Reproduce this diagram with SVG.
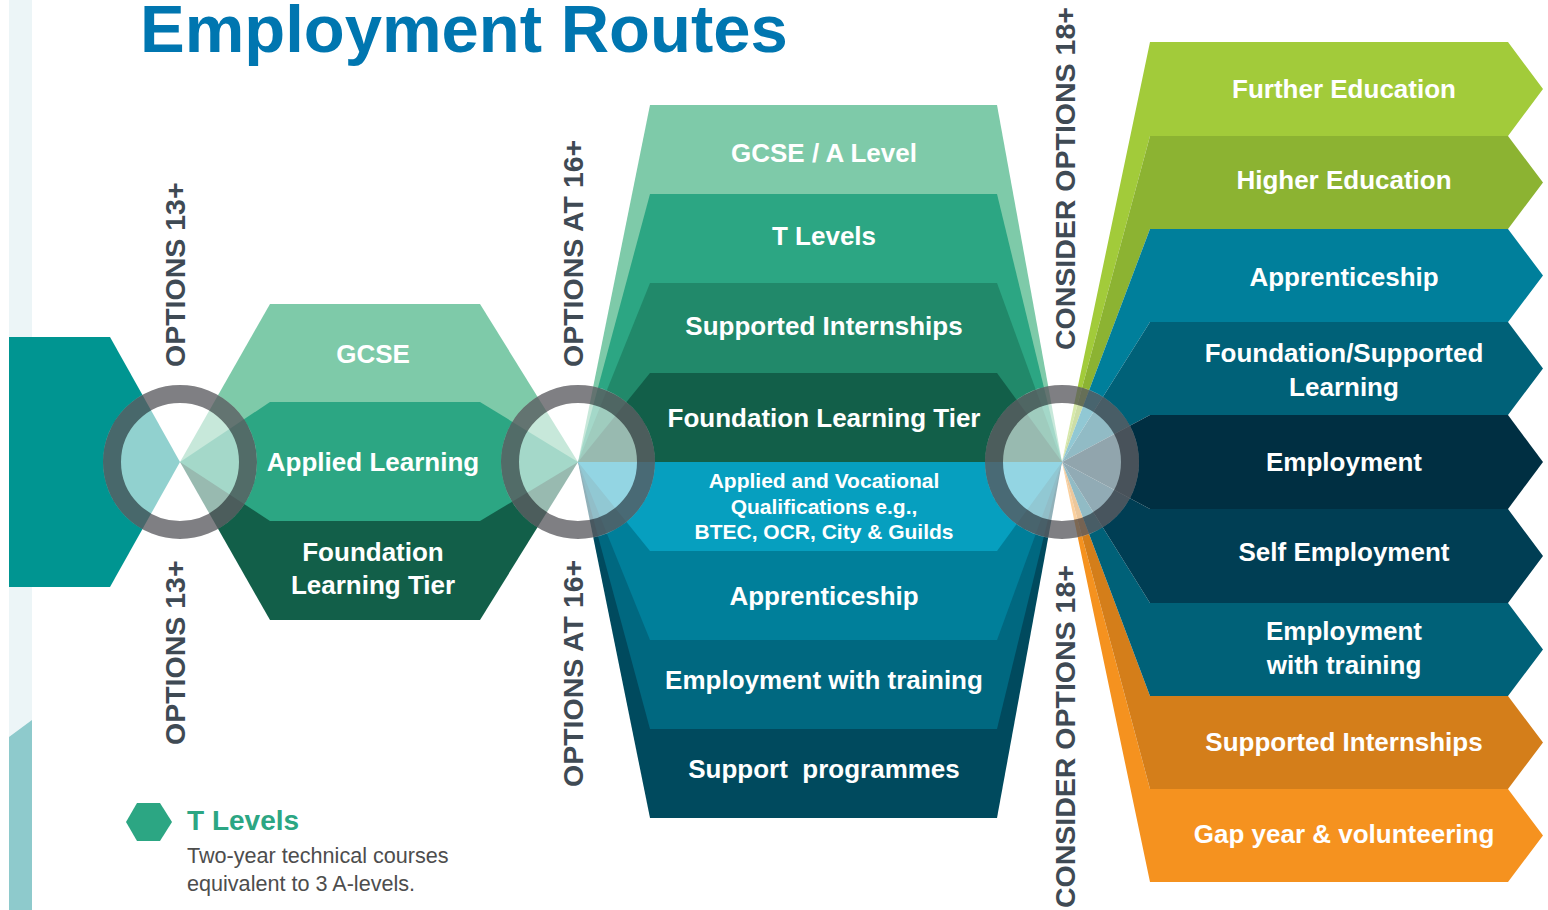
<svg xmlns="http://www.w3.org/2000/svg" width="1548" height="910" viewBox="0 0 1548 910">
<style>
.lbl{font-family:"Liberation Sans",Arial,sans-serif;font-weight:bold;font-size:26px;fill:#fff;text-anchor:middle}
.sm{font-size:21px}
.vl{font-family:"Liberation Sans",Arial,sans-serif;font-weight:bold;font-size:28.5px;fill:#3f4a54}
.disc{fill:#fff;opacity:.57}
.ring{fill:none;stroke:#000008;stroke-width:18;stroke-opacity:.5}
</style>
<rect width="1548" height="910" fill="#fff"/>
<g id="side-strip">
<rect x="9" y="0" width="23" height="740" fill="#ecf5f7"/>
<polygon points="9,737 32,720 32,910 9,910" fill="#8ecacc"/>
</g>
<text x="140" y="52" font-family="'Liberation Sans',Arial,sans-serif" font-weight="bold" font-size="67" fill="#0076b0">Employment Routes</text>

<g id="start">
<polygon points="9,337 110,337 180,462 110,587 9,587" fill="#009591"/>
</g>

<g id="stage1">
<g id="s1-gcse"><polygon points="180,462 270,304 480,304 578,462" fill="#7ecaa9"/></g>
<g id="s1-flt"><polygon points="180,462 270,620 480,620 578,462" fill="#125f49"/></g>
<g id="s1-applied"><polygon points="180,462 270,402 480,402 578,462 480,521 270,521" fill="#2ca683"/></g>
</g>

<g id="stage2">
<g id="s2-gcse-alevel"><polygon points="578,462 650,105 997,105 1062,462" fill="#7ecaa9"/></g>
<g id="s2-tlevels"><polygon points="578,462 650,194 997,194 1062,462" fill="#2ca683"/></g>
<g id="s2-supported"><polygon points="578,462 650,283 997,283 1062,462" fill="#21896a"/></g>
<g id="s2-flt"><polygon points="578,462 650,373 997,373 1062,462" fill="#125f49"/></g>
<g id="s2-support-prog"><polygon points="578,462 650,818 997,818 1062,462" fill="#004a5e"/></g>
<g id="s2-ewt"><polygon points="578,462 650,729 997,729 1062,462" fill="#006880"/></g>
<g id="s2-apprenticeship"><polygon points="578,462 650,640 997,640 1062,462" fill="#007f9a"/></g>
<g id="s2-applied-voc"><polygon points="578,462 650,551 997,551 1062,462" fill="#069fbf"/></g>
</g>

<g id="stage3">
<g id="s3-further"><polygon points="1062,462 1150,42 1508,42 1543,89 1508,136 1150,136" fill="#a2cb3a"/></g>
<g id="s3-higher"><polygon points="1062,462 1150,136 1508,136 1543,182.5 1508,229 1150,229" fill="#8cb332"/></g>
<g id="s3-apprenticeship"><polygon points="1062,462 1150,229 1508,229 1543,275.5 1508,322 1150,322" fill="#007f9b"/></g>
<g id="s3-foundation"><polygon points="1062,462 1150,322 1508,322 1543,368.5 1508,415 1150,415" fill="#006178"/></g>
<g id="s3-gap"><polygon points="1062,462 1150,789 1508,789 1543,835.5 1508,882 1150,882" fill="#f5921f"/></g>
<g id="s3-supported"><polygon points="1062,462 1150,696 1508,696 1543,742.5 1508,789 1150,789" fill="#d47e1a"/></g>
<g id="s3-ewt"><polygon points="1062,462 1150,603 1508,603 1543,649.5 1508,696 1150,696" fill="#006178"/></g>
<g id="s3-self"><polygon points="1062,462 1150,509 1508,509 1543,556 1508,603 1150,603" fill="#003e54"/></g>
<g id="s3-employment"><polygon points="1062,462 1150,415 1508,415 1543,462 1508,509 1150,509" fill="#002f42"/></g>
</g>

<g id="connectors">
<g id="hub1"><circle class="disc" cx="180" cy="462" r="77"/><circle class="ring" cx="180" cy="462" r="68"/></g>
<g id="hub2"><circle class="disc" cx="578" cy="462" r="77"/><circle class="ring" cx="578" cy="462" r="68"/></g>
<g id="hub3"><circle class="disc" cx="1062" cy="462" r="77"/><circle class="ring" cx="1062" cy="462" r="68"/></g>
</g>

<g id="labels">
<text class="lbl" x="373" y="363">GCSE</text>
<text class="lbl" x="373" y="471">Applied Learning</text>
<text class="lbl" x="373" y="561">Foundation</text>
<text class="lbl" x="373" y="594">Learning Tier</text>

<text class="lbl" x="824" y="162">GCSE / A Level</text>
<text class="lbl" x="824" y="245">T Levels</text>
<text class="lbl" x="824" y="335">Supported Internships</text>
<text class="lbl" x="824" y="427">Foundation Learning Tier</text>
<text class="lbl sm" x="824" y="487.5">Applied and Vocational</text>
<text class="lbl sm" x="824" y="513.5">Qualifications e.g.,</text>
<text class="lbl sm" x="824" y="538.5">BTEC, OCR, City &amp; Guilds</text>
<text class="lbl" x="824" y="605">Apprenticeship</text>
<text class="lbl" x="824" y="689">Employment with training</text>
<text class="lbl" x="824" y="778" xml:space="preserve">Support  programmes</text>

<text class="lbl" x="1344" y="98">Further Education</text>
<text class="lbl" x="1344" y="189">Higher Education</text>
<text class="lbl" x="1344" y="286">Apprenticeship</text>
<text class="lbl" x="1344" y="362">Foundation/Supported</text>
<text class="lbl" x="1344" y="396">Learning</text>
<text class="lbl" x="1344" y="471">Employment</text>
<text class="lbl" x="1344" y="561">Self Employment</text>
<text class="lbl" x="1344" y="640">Employment</text>
<text class="lbl" x="1344" y="674">with training</text>
<text class="lbl" x="1344" y="751">Supported Internships</text>
<text class="lbl" x="1344" y="843">Gap year &amp; volunteering</text>

<text class="vl" transform="translate(185,367) rotate(-90)">OPTIONS 13+</text>
<text class="vl" transform="translate(185,745) rotate(-90)">OPTIONS 13+</text>
<text class="vl" transform="translate(583,367) rotate(-90)">OPTIONS AT 16+</text>
<text class="vl" transform="translate(583,787) rotate(-90)">OPTIONS AT 16+</text>
<text class="vl" transform="translate(1075,350) rotate(-90)">CONSIDER OPTIONS 18+</text>
<text class="vl" transform="translate(1075,908) rotate(-90)">CONSIDER OPTIONS 18+</text>
</g>

<g id="legend">
<polygon points="137,803 160,803 172,822 160,841 137,841 126,822" fill="#2ca683"/>
<text x="187" y="830" font-family="'Liberation Sans',Arial,sans-serif" font-weight="bold" font-size="28" fill="#2ca683">T Levels</text>
<text x="187" y="863" font-family="'Liberation Sans',Arial,sans-serif" font-size="21.6" fill="#4d4d4d">Two-year technical courses</text>
<text x="187" y="891" font-family="'Liberation Sans',Arial,sans-serif" font-size="21.6" fill="#4d4d4d">equivalent to 3 A-levels.</text>
</g>
</svg>
